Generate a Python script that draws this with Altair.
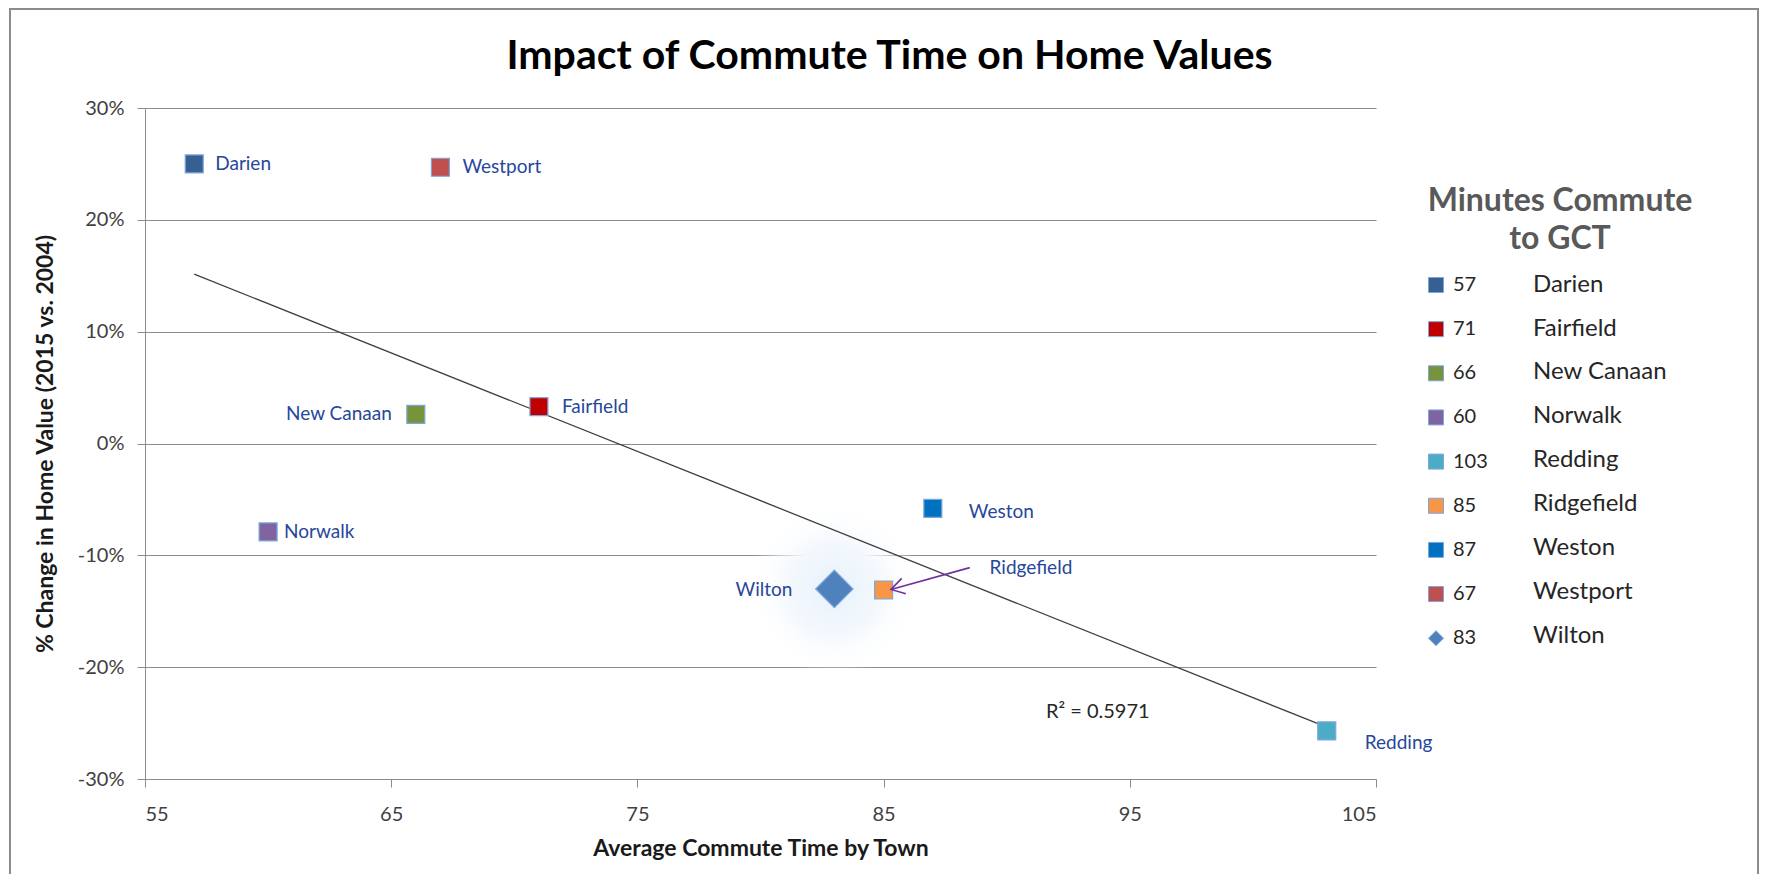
import altair as alt
import pandas as pd

# ---- data ----
towns = ["Darien", "Fairfield", "New Canaan", "Norwalk", "Redding",
         "Ridgefield", "Weston", "Westport", "Wilton"]
minutes = [57, 71, 66, 60, 103, 85, 87, 67, 83]
change_pct = [25.0, 3.3, 2.6, -7.9, -25.7, -13.1, -5.8, 24.7, -13.0]
colors = ["#376092", "#C00000", "#77933C", "#8064A2", "#4BACC6",
          "#F79646", "#0070C0", "#C0504D", "#4F81BD"]
shapes = ["square"] * 8 + ["diamond"]
x_ticks = [55, 65, 75, 85, 95, 105]
y_ticks = [-30, -20, -10, 0, 10, 20, 30]

# annotation data
arrow_start_x = [88.5]
arrow_start_y = [-11.1]
arrow_end_x = [85.3]
arrow_end_y = [-13.05]
r2_x = [93.7]
r2_y = [-24.0]
r2_label = ["R\u00b2 = 0.5971"]

# label styling per town (offsets in px, alignment)
label_style = {
    "Darien": (21, 0, "left"),
    "Fairfield": (23, 0, "left"),
    "New Canaan": (-24, 0, "right"),
    "Norwalk": (16, 0, "left"),
    "Redding": (38, 12, "left"),
    "Ridgefield": (106, -22, "left"),
    "Weston": (36, 4, "left"),
    "Westport": (22, 0, "left"),
    "Wilton": (-42, 1, "right"),
}

df = pd.DataFrame({"town": towns, "minutes": minutes, "change": change_pct})
arrow_df = pd.DataFrame({"x1": arrow_start_x, "y1": arrow_start_y,
                         "x2": arrow_end_x, "y2": arrow_end_y})
r2_df = pd.DataFrame({"x": r2_x, "y": r2_y, "t": r2_label})

FONT = "Lato"
W, H = 1231, 671
PAD_L, PAD_T, PAD_R, PAD_B = 137, 100, 385, 95

x_scale = alt.Scale(domain=[55, 105], nice=False, zero=False)
y_scale = alt.Scale(domain=[-30, 30], nice=False, zero=False)
x_axis = alt.Axis(values=x_ticks, title="Average Commute Time by Town", grid=False,
                  labelPadding=17, titleX=W / 2, titleY=69, titleAlign="center",
                  titleBaseline="middle")
y_axis = alt.Axis(values=y_ticks, labelExpr="datum.value + '%'",
                  title="% Change in Home Value (2015 vs. 2004)", grid=True,
                  labelPadding=13, titleX=-100, titleY=H / 2, titleAngle=270,
                  titleAlign="center", titleBaseline="middle")


def X(f):
    return alt.X(f"{f}:Q", scale=x_scale, axis=x_axis)


def Y(f):
    return alt.Y(f"{f}:Q", scale=y_scale, axis=y_axis)


base = alt.Chart(df)

# frame around the chart area
frame = alt.Chart(alt.Data(values=[{}])).mark_rect(
    filled=False, stroke="#8C8C8C", strokeWidth=2
).encode(x=alt.value(-135), x2=alt.value(W + PAD_R - 3), y=alt.value(-99), y2=alt.value(800))

glow = base.transform_filter(alt.datum.town == "Wilton").mark_point(
    shape="circle", filled=True, size=175 ** 2, opacity=1, strokeWidth=0,
    fill={"gradient": "radial",
          "stops": [{"offset": 0, "color": "#E8F2FB"},
                    {"offset": 0.5, "color": "#F3F8FD"},
                    {"offset": 1, "color": "rgba(255,255,255,0)"}]}
).encode(x=X("minutes"), y=Y("change"))

trend = base.transform_regression("minutes", "change").mark_line(
    color="#404040", strokeWidth=1.3
).encode(x=X("minutes"), y=Y("change"))

leg_numbers = alt.Legend(
    title=None, orient="none", legendX=1281, legendY=167,
    labelExpr=" : ".join([f"datum.value == '{t}' ? '{m}'" for t, m in zip(towns, minutes)]) + " : ''",
    labelFont=FONT, labelFontSize=20, labelColor="#262626",
    symbolSize=225, symbolStrokeColor="#7FA6DA", symbolStrokeWidth=1,
    rowPadding=24.15, labelOffset=7, padding=0,
)

points = base.mark_point(
    filled=True, opacity=1, stroke="#7FA6DA", strokeWidth=1.2
).encode(
    x=X("minutes"), y=Y("change"),
    color=alt.Color("town:N", scale=alt.Scale(domain=towns, range=colors), legend=leg_numbers),
    shape=alt.Shape("town:N", scale=alt.Scale(domain=towns, range=shapes), legend=leg_numbers),
    size=alt.condition("datum.town == 'Wilton'", alt.value(1400), alt.value(324)),
)

arrow_line = alt.Chart(arrow_df).mark_rule(color="#7030A0", strokeWidth=1.6).encode(
    x=X("x1"), y=Y("y1"), x2="x2:Q", y2="y2:Q")
arrow_head = alt.Chart(arrow_df).mark_point(
    shape="M-1,-0.6L0,0L-1,0.6", filled=False, color="#7030A0", strokeWidth=1.6,
    size=700, angle=165, opacity=1
).encode(x=X("x2"), y=Y("y2"))

labels = []
for t in towns:
    dx, dy, al = label_style[t]
    labels.append(
        base.transform_filter(alt.datum.town == t).mark_text(
            align=al, baseline="middle", dx=dx, dy=dy, font=FONT, fontSize=19,
            color="#27479A"
        ).encode(x=X("minutes"), y=Y("change"), text="town:N")
    )

r2 = alt.Chart(r2_df).mark_text(
    align="center", baseline="middle", font=FONT, fontSize=20, color="#262626"
).encode(x=X("x"), y=Y("y"), text="t:N")

leg_names = alt.Legend(
    title=["Minutes Commute", "to GCT"], orient="none", legendX=1283, legendY=78,
    titleFont=FONT, titleFontSize=32, titleFontWeight="bold", titleColor="#595959",
    titleAlign="center", titleAnchor="middle", titleLineHeight=37.6, titlePadding=17,
    titleLimit=600,
    labelFont=FONT, labelFontSize=24, labelColor="#262626", labelLimit=400,
    symbolSize=225, symbolOpacity=0, symbolStrokeWidth=0,
    rowPadding=19.9, labelOffset=57, padding=0,
)
names = base.mark_point(opacity=0, filled=True).encode(
    x=X("minutes"), y=Y("change"),
    color=alt.Color("town:N", scale=alt.Scale(domain=towns, range=["#ffffff"] * 9),
                    legend=leg_names),
)

chart = alt.layer(frame, glow, trend, points, arrow_line, arrow_head, *labels, r2, names).resolve_scale(
    color="independent", shape="independent"
).properties(
    width=W, height=H,
    autosize=alt.AutoSizeParams(type="none"),
    padding={"left": PAD_L, "top": PAD_T, "right": PAD_R, "bottom": PAD_B},
    title=alt.Title(text="Impact of Commute Time on Home Values", font=FONT, fontSize=41,
                    fontWeight="bold", color="#000000", anchor="middle", offset=-102,
                    dx=129, baseline="alphabetic"),
).configure_view(stroke=None).configure_axis(
    labelFont=FONT, labelFontSize=20, labelColor="#404040",
    domainColor="#8C8C8C", tickColor="#8C8C8C", tickSize=8, gridColor="#8C8C8C",
    titleFont=FONT, titleFontSize=23, titleFontWeight="bold", titleColor="#1A1A1A",
)

chart.save("out.html", embed_options={"renderer": "svg", "actions": False})
